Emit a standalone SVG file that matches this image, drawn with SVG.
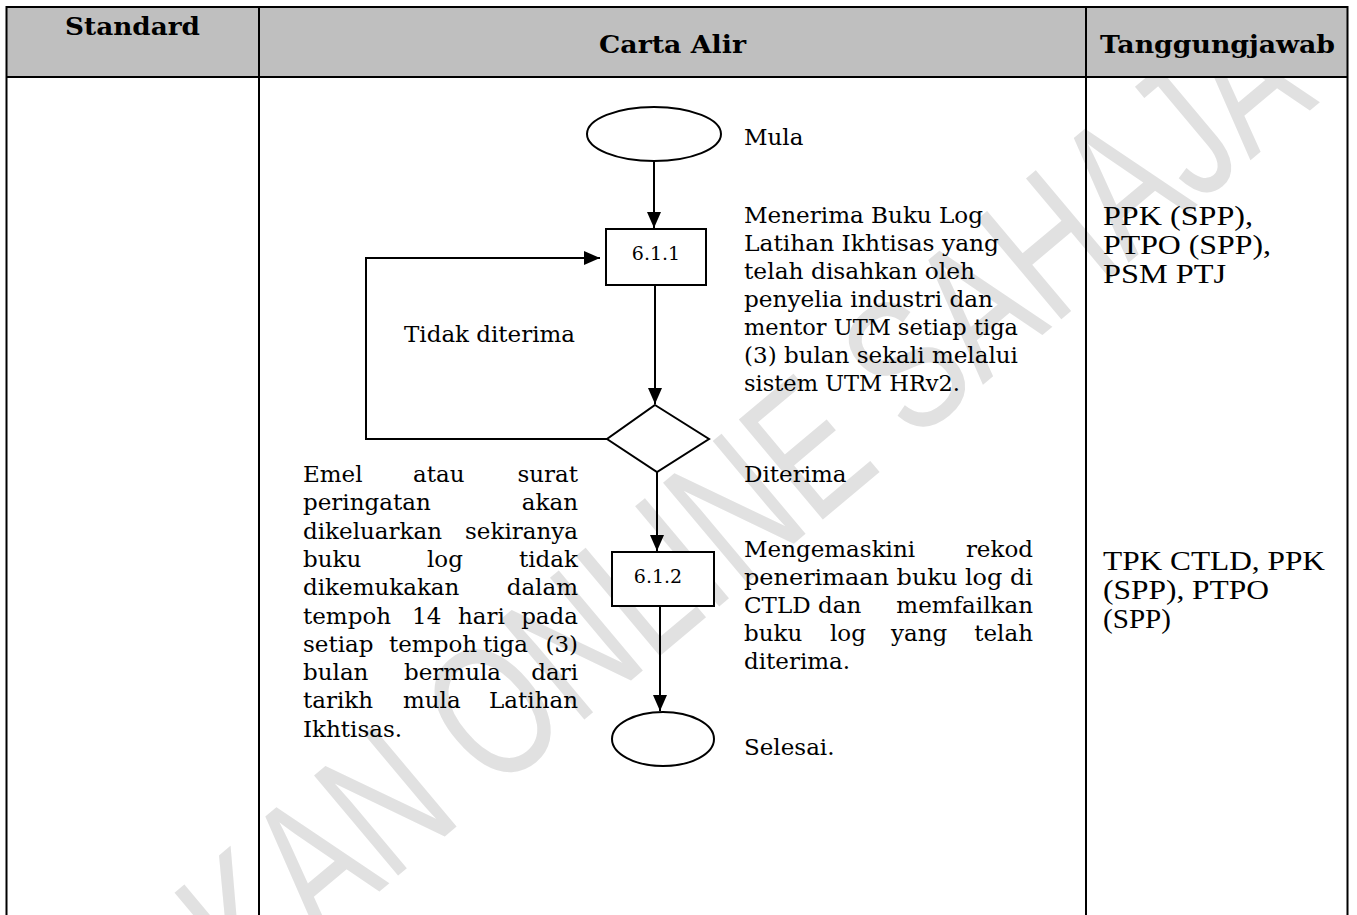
<svg xmlns="http://www.w3.org/2000/svg" width="1357" height="915" viewBox="0 0 1357 915">
<defs>
<marker id="arr" markerUnits="userSpaceOnUse" markerWidth="16" markerHeight="14" viewBox="0 0 16 14" refX="16" refY="7" orient="auto"><path d="M0,0 L16,7 L0,14 Z" fill="#000"/></marker>
</defs>
<style>
.grid{stroke:#000;stroke-width:2;fill:none}
.hd{font-family:"DejaVu Serif","Liberation Serif",serif;font-weight:bold;font-size:25px;fill:#000}
.t{font-family:"DejaVu Serif","Liberation Serif",serif;font-size:23px;fill:#000}
.e{text-anchor:end}
.lbl{font-family:"DejaVu Serif","Liberation Serif",serif;font-size:19px;fill:#000;text-anchor:middle}
.r{font-family:"Liberation Serif","Times New Roman",serif;font-size:28px;fill:#000}
.shape{fill:#fff;stroke:#000;stroke-width:2}
.conn{fill:none;stroke:#000;stroke-width:2;marker-end:url(#arr)}
.wm{font-family:"Liberation Sans",Arial,sans-serif;font-size:190px;fill:#e1e1e1}
</style>
<rect x="0" y="0" width="1357" height="915" fill="#fff"/>
<text class="wm" transform="translate(250,1000) rotate(-40)" textLength="1397" lengthAdjust="spacingAndGlyphs">KAN ONLINE SAHAJA</text>

<g id="table">
<rect x="6" y="7" width="1342" height="70" fill="#bfbfbf"/>
<line class="grid" x1="6" y1="7" x2="1348" y2="7"/>
<line class="grid" x1="6" y1="77" x2="1348" y2="77" stroke-width="2.6"/>
<line class="grid" x1="6.5" y1="6" x2="6.5" y2="915"/>
<line class="grid" x1="259" y1="6" x2="259" y2="915"/>
<line class="grid" x1="1086" y1="6" x2="1086" y2="915"/>
<line class="grid" x1="1347.5" y1="6" x2="1347.5" y2="915"/>
<text class="hd" x="132.5" y="35" text-anchor="middle" textLength="135" lengthAdjust="spacingAndGlyphs">Standard</text>
<text class="hd" x="672.5" y="53" text-anchor="middle" textLength="147" lengthAdjust="spacingAndGlyphs">Carta Alir</text>
<text class="hd" x="1217.5" y="53" text-anchor="middle" textLength="235" lengthAdjust="spacingAndGlyphs">Tanggungjawab</text>
</g>

<g id="connectors">
<line class="conn" x1="654" y1="161" x2="654" y2="228"/>
<line class="conn" x1="655" y1="285" x2="655" y2="404"/>
<path class="conn" d="M607,439 H366 V258 H600"/>
<line class="conn" x1="657" y1="472" x2="657" y2="551"/>
<line class="conn" x1="660" y1="606" x2="660" y2="711"/>
</g>

<g id="node-start">
<ellipse class="shape" cx="654" cy="134" rx="67" ry="27"/>
</g>
<g id="node-611">
<rect class="shape" x="606" y="229" width="100" height="56"/>
<text class="lbl" x="656" y="260">6.1.1</text>
</g>
<g id="node-decision">
<polygon class="shape" points="655,405 709,439 657,472 607,439"/>
</g>
<g id="node-612">
<rect class="shape" x="612" y="552" width="102" height="54"/>
<text class="lbl" x="658" y="583">6.1.2</text>
</g>
<g id="node-end">
<ellipse class="shape" cx="663" cy="739" rx="51" ry="27"/>
</g>

<g id="labels">
<text class="t" x="744" y="145">Mula</text>
<text class="t" x="404" y="342" textLength="171" lengthAdjust="spacingAndGlyphs">Tidak diterima</text>
<text class="t" x="744" y="482">Diterima</text>
<text class="t" x="744" y="755">Selesai.</text>

<text class="t" x="744" y="223" textLength="239" lengthAdjust="spacingAndGlyphs">Menerima Buku Log</text>
<text class="t" x="744" y="251" textLength="255" lengthAdjust="spacingAndGlyphs">Latihan Ikhtisas yang</text>
<text class="t" x="744" y="279" textLength="231" lengthAdjust="spacingAndGlyphs">telah disahkan oleh</text>
<text class="t" x="744" y="307" textLength="249" lengthAdjust="spacingAndGlyphs">penyelia industri dan</text>
<text class="t" x="744" y="335" textLength="274" lengthAdjust="spacingAndGlyphs">mentor UTM setiap tiga</text>
<text class="t" x="744" y="363" textLength="274" lengthAdjust="spacingAndGlyphs">(3) bulan sekali melalui</text>
<text class="t" x="744" y="391" textLength="216" lengthAdjust="spacingAndGlyphs">sistem UTM HRv2.</text>

<text class="t" x="744" y="557">Mengemaskini</text><text class="t e" x="1033" y="557">rekod</text>
<text class="t" x="744" y="585" textLength="289" lengthAdjust="spacingAndGlyphs">penerimaan buku log di</text>
<text class="t" x="744" y="613">CTLD</text><text class="t" x="818" y="613">dan</text><text class="t e" x="1033" y="613">memfailkan</text>
<text class="t" x="744" y="641">buku</text><text class="t" x="830" y="641">log</text><text class="t" x="891" y="641">yang</text><text class="t e" x="1033" y="641">telah</text>
<text class="t" x="744" y="669">diterima.</text>

<text class="t" x="303" y="482">Emel</text><text class="t" x="413" y="482">atau</text><text class="t e" x="578" y="482">surat</text>
<text class="t" x="303" y="510.3">peringatan</text><text class="t e" x="578" y="510.3">akan</text>
<text class="t" x="303" y="538.6">dikeluarkan</text><text class="t e" x="578" y="538.6">sekiranya</text>
<text class="t" x="303" y="566.9">buku</text><text class="t" x="427" y="566.9">log</text><text class="t e" x="578" y="566.9">tidak</text>
<text class="t" x="303" y="595.2">dikemukakan</text><text class="t e" x="578" y="595.2">dalam</text>
<text class="t" x="303" y="623.5">tempoh</text><text class="t" x="412" y="623.5">14</text><text class="t" x="458" y="623.5">hari</text><text class="t e" x="578" y="623.5">pada</text>
<text class="t" x="303" y="651.8">setiap</text><text class="t" x="389" y="651.8">tempoh</text><text class="t" x="483" y="651.8">tiga</text><text class="t e" x="578" y="651.8">(3)</text>
<text class="t" x="303" y="680.1">bulan</text><text class="t" x="404" y="680.1">bermula</text><text class="t e" x="578" y="680.1">dari</text>
<text class="t" x="303" y="708.4">tarikh</text><text class="t" x="403" y="708.4">mula</text><text class="t e" x="578" y="708.4">Latihan</text>
<text class="t" x="303" y="736.7">Ikhtisas.</text>

<text class="r" x="1103" y="225" textLength="150" lengthAdjust="spacingAndGlyphs">PPK (SPP),</text>
<text class="r" x="1103" y="254" textLength="168" lengthAdjust="spacingAndGlyphs">PTPO (SPP),</text>
<text class="r" x="1103" y="283" textLength="123" lengthAdjust="spacingAndGlyphs">PSM PTJ</text>
<text class="r" x="1103" y="570" textLength="222" lengthAdjust="spacingAndGlyphs">TPK CTLD, PPK</text>
<text class="r" x="1103" y="599" textLength="166" lengthAdjust="spacingAndGlyphs">(SPP), PTPO</text>
<text class="r" x="1103" y="628" textLength="68" lengthAdjust="spacingAndGlyphs">(SPP)</text>
</g>
</svg>
